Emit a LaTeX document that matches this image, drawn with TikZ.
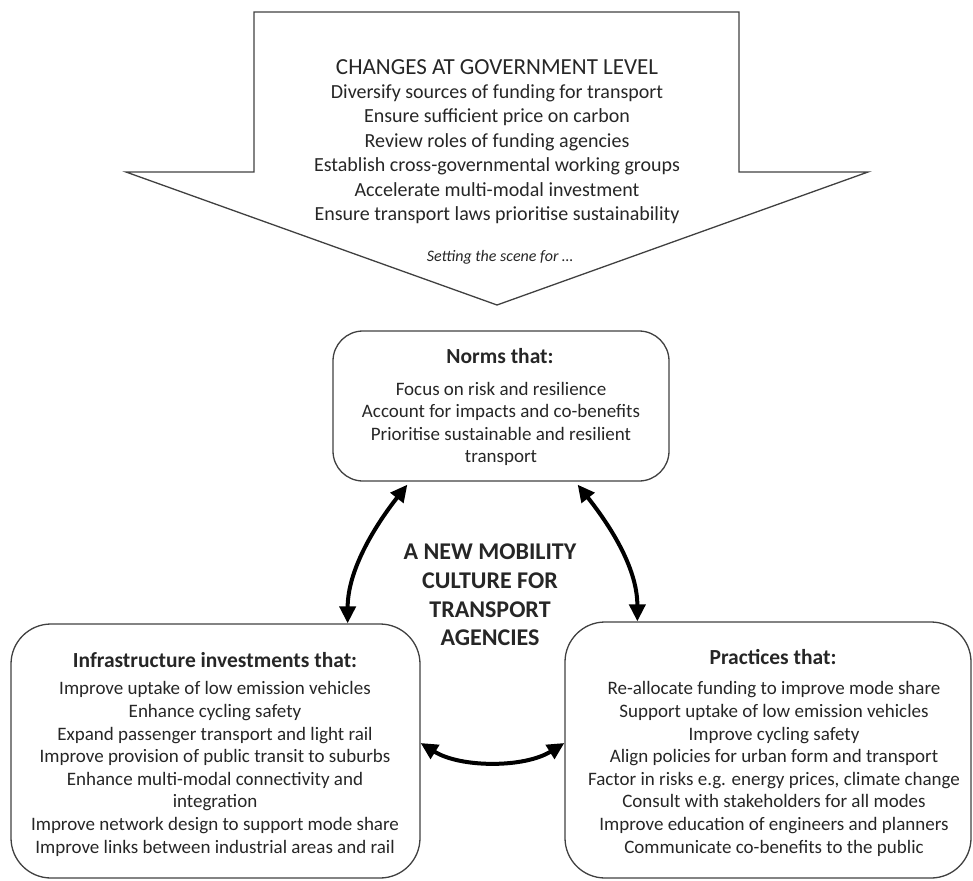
\documentclass[tikz,border=0pt]{standalone}
\usepackage{fontspec}
\setmainfont{Carlito}
\usetikzlibrary{arrows.meta}
\definecolor{ink}{HTML}{262626}
\definecolor{edge}{HTML}{404040}
\tikzset{
  roundbox/.style={draw=edge, line width=1.3pt, inner sep=0pt, rectangle},
  biarrow/.style={draw=black, line width=4pt,
    {Triangle[length=17pt,width=16pt]}-{Triangle[length=17pt,width=16pt]}},
  txt/.style={text=ink, align=center, inner sep=0pt},
  body/.style={txt, font=\fontsize{19}{22.6}\selectfont},
  boxtitle/.style={txt, font=\fontsize{21.5}{25}\selectfont\bfseries},
}
\begin{document}
\begin{tikzpicture}[x=1pt, y=-1pt]
\useasboundingbox (0,0) rectangle (973,880);
% big downward arrow
\draw[draw=edge, line width=1.3pt, line join=miter]
  (254,12) -- (739,12) -- (739,172) -- (868,172) -- (497,305)
  -- (126,172) -- (254,172) -- cycle;
\node[txt, font=\fontsize{23}{27}\selectfont] (govtitle) at (497,67) {CHANGES AT GOVERNMENT LEVEL};
\node[txt, font=\fontsize{20}{24.5}\selectfont] (govbody) at (497,154)
 {Diversify sources of funding for transport\\
  Ensure sufficient price on carbon\\
  Review roles of funding agencies\\
  Establish cross-governmental working groups\\
  Accelerate multi-modal investment\\
  Ensure transport laws prioritise sustainability};
\node[txt, font=\fontsize{16}{19}\selectfont\itshape] (scene) at (500,257) {Setting the scene for \dots};

% boxes
\node[roundbox, rounded corners=30pt, minimum width=336pt, minimum height=150pt] (norms) at (501,406) {};
\node[roundbox, rounded corners=40pt, minimum width=409pt, minimum height=254pt] (infra) at (215.5,751) {};
\node[roundbox, rounded corners=40pt, minimum width=406pt, minimum height=256pt] (prac) at (768,750) {};

\node[boxtitle] (normst) at (500,356) {Norms that:};
\node[body] (normsb) at (501,424)
 {Focus on risk and resilience\\
  Account for impacts and co-benefits\\
  Prioritise sustainable and resilient\\
  transport};

\node[boxtitle] (infrat) at (215,660) {Infrastructure investments that:};
\node[body] (infrab) at (215,769)
 {Improve uptake of low emission vehicles\\
  Enhance cycling safety\\
  Expand passenger transport and light rail\\
  Improve provision of public transit to suburbs\\
  Enhance multi-modal connectivity and\\
  integration\\
  Improve network design to support mode share\\
  Improve links between industrial areas and rail};

\node[boxtitle] (pract) at (773,657) {Practices that:};
\node[body] (pracb) at (774,769)
 {Re-allocate funding to improve mode share\\
  Support uptake of low emission vehicles\\
  Improve cycling safety\\
  Align policies for urban form and transport\\
  Factor in risks e.g. energy prices, climate change\\
  Consult with stakeholders for all modes\\
  Improve education of engineers and planners\\
  Communicate co-benefits to the public};

\node[txt, font=\fontsize{24}{28.7}\selectfont\bfseries] (culture) at (490,595)
 {A NEW MOBILITY\\CULTURE FOR\\TRANSPORT\\AGENCIES};

% connectors
\draw[biarrow] ([xshift=-73pt]infra.north east) .. controls +(0,-55) and +(-30,38) .. ([xshift=75pt,yshift=-3pt]norms.south west);
\draw[biarrow] ([xshift=73pt]prac.north west) .. controls +(0,-55) and +(30,38) .. ([xshift=-92pt,yshift=-3pt]norms.south east);
\draw[biarrow] ([yshift=8pt]infra.east) .. controls +(40,25) and +(-40,25) .. ([yshift=7pt]prac.west);
\end{tikzpicture}
\end{document}
